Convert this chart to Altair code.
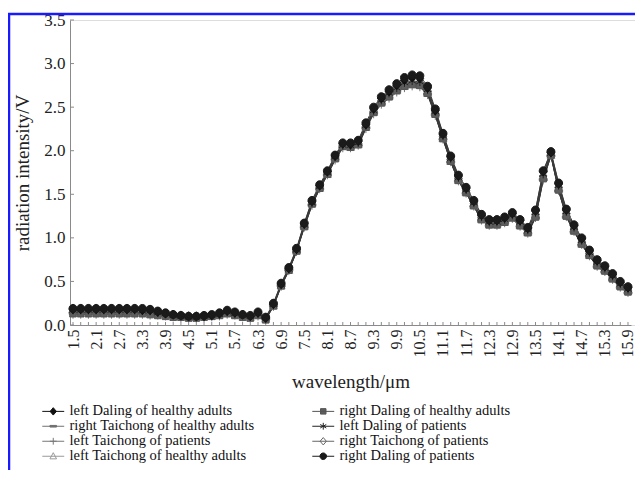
import altair as alt
import pandas as pd

wavelengths = ["1.5", "1.7", "1.9", "2.1", "2.3", "2.5", "2.7", "2.9", "3.1", "3.3",
               "3.5", "3.7", "3.9", "4.1", "4.3", "4.5", "4.7", "4.9", "5.1", "5.3",
               "5.5", "5.7", "5.9", "6.1", "6.3", "6.5", "6.7", "6.9", "7.1", "7.3",
               "7.5", "7.7", "7.9", "8.1", "8.3", "8.5", "8.7", "8.9", "9.1", "9.3",
               "9.5", "9.7", "9.9", "10.1", "10.3", "10.5", "10.7", "10.9", "11.1", "11.3",
               "11.5", "11.7", "11.9", "12.1", "12.3", "12.5", "12.7", "12.9", "13.1", "13.3",
               "13.5", "13.7", "13.9", "14.1", "14.3", "14.5", "14.7", "14.9", "15.1", "15.3",
               "15.5", "15.7", "15.9"]

y_ticks = [0.0, 0.5, 1.0, 1.5, 2.0, 2.5, 3.0, 3.5]

right_daling_patients = [
    0.19, 0.19, 0.19, 0.19, 0.19, 0.19, 0.19, 0.19, 0.19, 0.19,
    0.18, 0.16, 0.14, 0.12, 0.11, 0.10, 0.10, 0.11, 0.12, 0.14,
    0.17, 0.15, 0.12, 0.11, 0.15, 0.09, 0.25, 0.48, 0.66, 0.88,
    1.17, 1.43, 1.61, 1.77, 1.95, 2.09, 2.09, 2.12, 2.32, 2.50,
    2.62, 2.70, 2.77, 2.84, 2.87, 2.86, 2.74, 2.48, 2.20, 1.94,
    1.72, 1.58, 1.43, 1.27, 1.21, 1.21, 1.24, 1.29, 1.21, 1.12,
    1.32, 1.77, 1.99, 1.63, 1.33, 1.15, 1.00, 0.86, 0.75, 0.68,
    0.59, 0.50, 0.44]
left_daling_healthy = [
    0.18, 0.18, 0.18, 0.18, 0.18, 0.18, 0.18, 0.18, 0.18, 0.17,
    0.17, 0.15, 0.13, 0.12, 0.11, 0.10, 0.10, 0.10, 0.11, 0.13,
    0.16, 0.14, 0.12, 0.10, 0.14, 0.08, 0.24, 0.47, 0.65, 0.87,
    1.16, 1.42, 1.60, 1.76, 1.94, 2.08, 2.07, 2.11, 2.30, 2.48,
    2.60, 2.68, 2.75, 2.81, 2.84, 2.83, 2.72, 2.46, 2.19, 1.93,
    1.71, 1.57, 1.42, 1.26, 1.20, 1.20, 1.23, 1.28, 1.20, 1.11,
    1.31, 1.76, 1.98, 1.62, 1.32, 1.14, 0.99, 0.85, 0.74, 0.67,
    0.58, 0.49, 0.43]
left_daling_patients = [
    0.17, 0.17, 0.17, 0.17, 0.17, 0.17, 0.17, 0.17, 0.17, 0.16,
    0.16, 0.14, 0.13, 0.11, 0.10, 0.09, 0.09, 0.10, 0.11, 0.12,
    0.15, 0.13, 0.11, 0.10, 0.13, 0.08, 0.23, 0.46, 0.64, 0.86,
    1.15, 1.40, 1.59, 1.75, 1.93, 2.06, 2.06, 2.09, 2.29, 2.46,
    2.58, 2.66, 2.72, 2.78, 2.80, 2.79, 2.70, 2.45, 2.17, 1.91,
    1.69, 1.55, 1.40, 1.24, 1.18, 1.18, 1.21, 1.26, 1.18, 1.09,
    1.29, 1.73, 1.97, 1.60, 1.30, 1.12, 0.97, 0.83, 0.72, 0.65,
    0.56, 0.47, 0.41]
right_daling_healthy = [
    0.13, 0.13, 0.13, 0.13, 0.13, 0.13, 0.13, 0.13, 0.13, 0.13,
    0.12, 0.11, 0.10, 0.09, 0.09, 0.08, 0.08, 0.09, 0.10, 0.11,
    0.13, 0.11, 0.09, 0.08, 0.11, 0.06, 0.22, 0.45, 0.63, 0.85,
    1.13, 1.39, 1.57, 1.73, 1.91, 2.05, 2.04, 2.07, 2.27, 2.44,
    2.55, 2.62, 2.69, 2.74, 2.76, 2.75, 2.66, 2.42, 2.14, 1.88,
    1.66, 1.52, 1.37, 1.21, 1.15, 1.15, 1.18, 1.23, 1.14, 1.06,
    1.24, 1.68, 1.95, 1.55, 1.25, 1.08, 0.93, 0.80, 0.68, 0.62,
    0.53, 0.44, 0.38]
right_taichong_healthy = [
    0.14, 0.14, 0.14, 0.14, 0.14, 0.14, 0.14, 0.14, 0.14, 0.13,
    0.13, 0.12, 0.11, 0.10, 0.09, 0.09, 0.09, 0.09, 0.10, 0.11,
    0.13, 0.12, 0.10, 0.09, 0.12, 0.07, 0.22, 0.45, 0.63, 0.84,
    1.12, 1.38, 1.56, 1.72, 1.90, 2.04, 2.03, 2.06, 2.26, 2.43,
    2.54, 2.61, 2.68, 2.73, 2.75, 2.74, 2.65, 2.41, 2.13, 1.87,
    1.65, 1.51, 1.36, 1.20, 1.14, 1.14, 1.17, 1.22, 1.13, 1.05,
    1.23, 1.67, 1.94, 1.54, 1.24, 1.07, 0.92, 0.79, 0.67, 0.61,
    0.52, 0.43, 0.37]
left_taichong_patients = [
    0.12, 0.12, 0.12, 0.12, 0.12, 0.12, 0.12, 0.12, 0.12, 0.12,
    0.11, 0.11, 0.10, 0.09, 0.08, 0.08, 0.08, 0.08, 0.09, 0.10,
    0.12, 0.11, 0.09, 0.08, 0.10, 0.06, 0.21, 0.44, 0.62, 0.84,
    1.12, 1.37, 1.56, 1.72, 1.89, 2.03, 2.03, 2.06, 2.25, 2.42,
    2.53, 2.60, 2.67, 2.72, 2.74, 2.73, 2.64, 2.40, 2.13, 1.87,
    1.65, 1.51, 1.36, 1.20, 1.14, 1.14, 1.17, 1.22, 1.13, 1.05,
    1.23, 1.66, 1.94, 1.54, 1.24, 1.07, 0.92, 0.79, 0.67, 0.61,
    0.52, 0.43, 0.37]
right_taichong_patients = [
    0.19, 0.19, 0.19, 0.19, 0.19, 0.19, 0.19, 0.19, 0.19, 0.18,
    0.17, 0.15, 0.13, 0.12, 0.10, 0.10, 0.09, 0.10, 0.11, 0.13,
    0.15, 0.14, 0.11, 0.10, 0.13, 0.08, 0.23, 0.46, 0.64, 0.86,
    1.14, 1.40, 1.58, 1.74, 1.92, 2.06, 2.05, 2.08, 2.28, 2.45,
    2.57, 2.64, 2.71, 2.76, 2.78, 2.77, 2.68, 2.43, 2.16, 1.90,
    1.68, 1.54, 1.39, 1.23, 1.17, 1.17, 1.20, 1.25, 1.16, 1.08,
    1.27, 1.71, 1.96, 1.58, 1.28, 1.10, 0.95, 0.82, 0.70, 0.64,
    0.55, 0.46, 0.40]
left_taichong_healthy = [
    0.18, 0.18, 0.18, 0.18, 0.18, 0.18, 0.18, 0.18, 0.18, 0.17,
    0.16, 0.15, 0.13, 0.11, 0.10, 0.09, 0.09, 0.10, 0.10, 0.12,
    0.14, 0.13, 0.11, 0.09, 0.12, 0.07, 0.22, 0.45, 0.63, 0.85,
    1.13, 1.39, 1.57, 1.73, 1.91, 2.05, 2.04, 2.07, 2.27, 2.44,
    2.55, 2.62, 2.69, 2.74, 2.76, 2.75, 2.66, 2.42, 2.14, 1.88,
    1.66, 1.52, 1.37, 1.21, 1.15, 1.15, 1.18, 1.23, 1.14, 1.06,
    1.25, 1.69, 1.95, 1.56, 1.26, 1.08, 0.93, 0.80, 0.69, 0.63,
    0.54, 0.45, 0.39]

# legend entries, listed column by column (left column first)
legend_order = ["left Daling of healthy adults", "right Taichong of healthy adults",
                "left Taichong of patients", "left Taichong of healthy adults",
                "right Daling of healthy adults", "left Daling of patients",
                "right Taichong of patients", "right Daling of patients"]

series_values = {
    "left Daling of healthy adults": left_daling_healthy,
    "right Daling of healthy adults": right_daling_healthy,
    "right Taichong of healthy adults": right_taichong_healthy,
    "left Daling of patients": left_daling_patients,
    "left Taichong of patients": left_taichong_patients,
    "right Taichong of patients": right_taichong_patients,
    "left Taichong of healthy adults": left_taichong_healthy,
    "right Daling of patients": right_daling_patients,
}

draw_order = ["left Taichong of healthy adults", "left Taichong of patients",
              "right Taichong of healthy adults", "right Taichong of patients",
              "right Daling of healthy adults", "left Daling of patients",
              "left Daling of healthy adults", "right Daling of patients"]

rows = []
for name in draw_order:
    for wl, v in zip(wavelengths, series_values[name]):
        rows.append({"wl": wl, "value": v, "series": name})
df = pd.DataFrame(rows)
xticks_df = pd.DataFrame({"wl": wavelengths})
yticks_df = pd.DataFrame({"value": y_ticks})

# marker styles keyed by series
LINE = "M-4,0H4"
DIAMOND = "M0,-1.35L1.15,0L0,1.35L-1.15,0Z"
style = {
    "left Daling of healthy adults": (DIAMOND, "#111111", "#111111"),
    "right Daling of healthy adults": ("M-1,-1H1V1H-1Z", "#5e5e5e", "#555555"),
    "right Taichong of healthy adults": ("M-1.2,-0.3H1.2V0.3H-1.2Z", "#707070", "#707070"),
    "left Daling of patients": ("M0,-1.25V1.25M-1.1,-0.65L1.1,0.65M-1.1,0.65L1.1,-0.65", "#222222", "#222222"),
    "left Taichong of patients": ("M0,-1.25V1.25M-1.25,0H1.25", "#777777", "#777777"),
    "right Taichong of patients": (DIAMOND, "#ffffff", "#666666"),
    "left Taichong of healthy adults": ("M0,-1.3L1.2,0.95H-1.2Z", "#ffffff", "#999999"),
    "right Daling of patients": ("M-1.2,0A1.2,1.2 0 1,1 1.2,0A1.2,1.2 0 1,1 -1.2,0Z", "#1a1a1a", "#1a1a1a"),
}
marker_paths = [style[s][0] for s in legend_order]
legend_paths = [LINE + p for p in marker_paths]
fill_colors = [style[s][1] for s in legend_order]
stroke_colors = [style[s][2] for s in legend_order]

SERIF = "Liberation Serif"
AXIS_GREY = "#8a8a8a"

x_scale = alt.Scale(type="point", domain=wavelengths, range=[0, 561], padding=0.39)
y_scale = alt.Scale(domain=[0, 3.5], nice=False, zero=True)

x_enc = alt.X("wl:O", sort=wavelengths, scale=x_scale,
              axis=alt.Axis(title="wavelength/\u03bcm", labelAngle=-90, labelOverlap=False,
                            labelExpr="(round((toNumber(datum.value) - 1.5) * 5) % 3 == 0) ? datum.value : ''",
                            ticks=False, labelPadding=4,
                            domainColor=AXIS_GREY,
                            labelFont=SERIF, labelFontSize=16, labelColor="#222222",
                            titleFont=SERIF, titleFontSize=19, titleFontWeight="normal",
                            titleColor="#222222", titlePadding=15))
y_enc = alt.Y("value:Q", scale=y_scale,
              axis=alt.Axis(title="radiation intensity/V", values=y_ticks, format=".1f",
                            grid=False, ticks=False, labelPadding=5,
                            domainColor=AXIS_GREY,
                            labelFont=SERIF, labelFontSize=17, labelColor="#222222",
                            titleFont=SERIF, titleFontSize=19, titleFontWeight="normal",
                            titleColor="#222222", titlePadding=11))

base = alt.Chart(df)

lines = base.mark_line(color="#3a3a3a", strokeWidth=1).encode(
    x=x_enc, y=y_enc, detail="series:N")

points = base.mark_point(size=44, strokeWidth=1, opacity=1).encode(
    x=x_enc, y=y_enc,
    shape=alt.Shape("series:N", scale=alt.Scale(domain=legend_order, range=marker_paths), legend=None),
    fill=alt.Fill("series:N", scale=alt.Scale(domain=legend_order, range=fill_colors), legend=None),
    stroke=alt.Stroke("series:N", scale=alt.Scale(domain=legend_order, range=stroke_colors), legend=None),
)

leg = alt.Legend(orient="none", legendX=-34, legendY=384, columns=2, title=None,
                 symbolSize=30, symbolStrokeWidth=1, symbolOffset=10, labelOffset=9,
                 columnPadding=51, rowPadding=0, labelLimit=400, padding=0,
                 labelFont=SERIF, labelFontSize=14.5, labelColor="#111111", symbolOpacity=1)

legend_layer = base.transform_filter("datum.value < -1").mark_point(size=30, strokeWidth=1).encode(
    x=alt.X("wl:O", sort=wavelengths, scale=x_scale),
    y=alt.Y("value:Q", scale=y_scale),
    shape=alt.Shape("series:N", scale=alt.Scale(domain=legend_order, range=legend_paths), legend=leg),
    fill=alt.Fill("series:N", scale=alt.Scale(domain=legend_order, range=fill_colors), legend=leg),
    stroke=alt.Stroke("series:N", scale=alt.Scale(domain=legend_order, range=stroke_colors), legend=leg),
)

x_minor_ticks = alt.Chart(xticks_df).mark_rule(color=AXIS_GREY, strokeWidth=1).encode(
    x=alt.X("wl:O", sort=wavelengths, scale=x_scale),
    y=alt.value(302), y2=alt.value(305))

y_minor_ticks = alt.Chart(yticks_df).mark_rule(color=AXIS_GREY, strokeWidth=1).encode(
    y=alt.Y("value:Q", scale=y_scale),
    x=alt.value(0), x2=alt.value(4))

border = alt.Chart(alt.Data(values=[{"k": 1}])).mark_rect(
    fillOpacity=0, stroke="#1a1aff", strokeWidth=2.5).encode(
    x=alt.value(-61), x2=alt.value(700), y=alt.value(-6), y2=alt.value(600))

chart = alt.layer(x_minor_ticks, y_minor_ticks, lines, points, legend_layer, border).resolve_scale(
    shape="independent", fill="independent", stroke="independent"
).properties(
    width=565, height=305,
    autosize=alt.AutoSizeParams(type="none"),
    padding={"left": 62, "top": 12, "right": 0, "bottom": 145},
).configure_view(stroke=None).configure(background="white")

chart.save("out.html", embed_options={"renderer": "svg", "actions": False})
